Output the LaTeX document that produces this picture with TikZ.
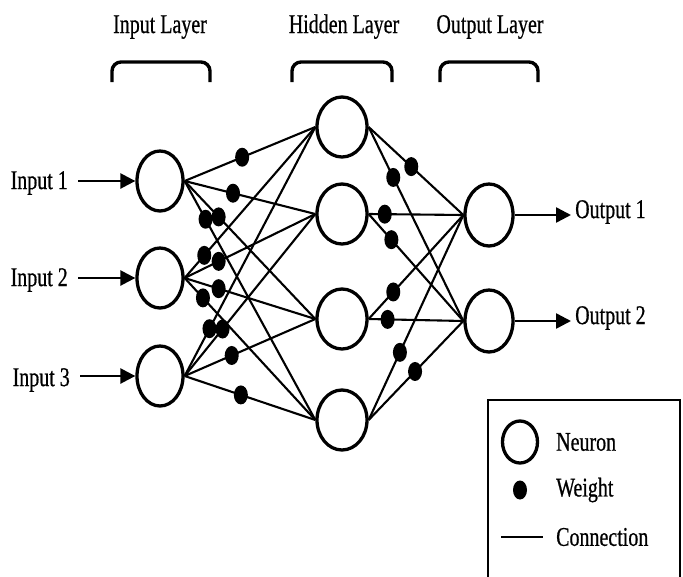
\documentclass[tikz,border=0pt]{standalone}
\usepackage{fontspec}
\setmainfont{Liberation Serif}[FakeStretch=0.74,FakeBold=0.6]
\usetikzlibrary{shapes.geometric,arrows.meta}
\begin{document}
\begin{tikzpicture}[x=1pt,y=-1pt,
  neuron/.style={ellipse,draw,line width=3.3pt,minimum width=46pt,minimum height=60pt,inner sep=0pt},
  weight/.style={ellipse,fill=black,minimum width=14pt,minimum height=19pt,inner sep=0pt},
  conn/.style={line width=2.1pt},
  lbl/.style={font=\fontsize{27}{31}\selectfont,inner sep=0pt},
  io/.style={line width=2.5pt,-{Triangle[length=15pt,width=15pt]}},
  brace/.style={line width=3.4pt,rounded corners=9pt}]
\useasboundingbox (0,0) rectangle (683,576);
% layer titles
\node[lbl,anchor=base] (tin) at (160,33) {Input Layer};
\node[lbl,anchor=base] (thid) at (344,33) {Hidden Layer};
\node[lbl,anchor=base] (tout) at (490,33) {Output Layer};
% brackets
\draw[brace] (112,82) -- (112,62) -- (210,62) -- (210,82);
\draw[brace] (292,82) -- (292,62) -- (392,62) -- (392,82);
\draw[brace] (440,82) -- (440,62) -- (538,62) -- (538,82);
% neurons
\node[neuron] (i1) at (160,181) {};
\node[neuron] (i2) at (160,278) {};
\node[neuron] (i3) at (160,376) {};
\node[neuron,minimum width=50pt] (h1) at (342,127) {};
\node[neuron,minimum width=50pt] (h2) at (342,214) {};
\node[neuron,minimum width=50pt] (h3) at (342,319) {};
\node[neuron,minimum width=50pt] (h4) at (342,420) {};
\node[neuron,minimum width=48pt,minimum height=62pt] (o1) at (489,215) {};
\node[neuron,minimum width=48pt,minimum height=62pt] (o2) at (489,321) {};
% input -> hidden
\foreach \i/\j/\t in {1/1/0.44, 1/2/0.37, 1/3/0.26, 1/4/0.16, 2/1/0.15, 2/2/0.26, 2/3/0.26, 2/4/0.14, 3/1/0.19, 3/2/0.29, 3/3/0.36, 3/4/0.43}
  \draw[conn] (i\i.east) -- node[weight,pos=\t] (w\i\j) {} (h\j.west);
% hidden -> output
\foreach \i/\j/\t in {1/1/0.45, 1/2/0.26, 2/1/0.17, 2/2/0.24, 3/1/0.26, 3/2/0.2, 4/1/0.33, 4/2/0.49}
  \draw[conn] (h\i.east) -- node[weight,pos=\t] (v\i\j) {} (o\j.west);
% inputs
\node[lbl,anchor=east] (x1) at (68,183) {Input 1};
\node[lbl,anchor=east] (x2) at (68,280) {Input 2};
\node[lbl,anchor=east] (x3) at (70,380) {Input 3};
\foreach \k in {1,2,3}
  \draw[io,shorten <=10pt] (x\k.east|-i\k) -- (i\k.west);
% outputs
\node[lbl,anchor=west] (y1) at (575,212) {Output 1};
\node[lbl,anchor=west] (y2) at (575,318) {Output 2};
\draw[io,shorten >=4pt] (o1.east) -- (y1.west|-o1);
\draw[io,shorten >=4pt] (o2.east) -- (y2.west|-o2);
% legend
\draw[line width=1.8pt] (488,580) |- (680,400) -- (680,580);
\node[neuron,minimum width=35pt,minimum height=42pt] (ln) at (520,442) {};
\node[weight] (lw) at (520,490) {};
\coordinate (lc1) at (501,537);
\coordinate (lc2) at (543,537);
\draw[conn] (lc1) -- (lc2);
\node[lbl,anchor=west] (tn) at (556,442) {Neuron};
\node[lbl,anchor=west] (tw) at (556,490) {Weight};
\node[lbl,anchor=west] (tc) at (556,537) {Connection};
\end{tikzpicture}
\end{document}
